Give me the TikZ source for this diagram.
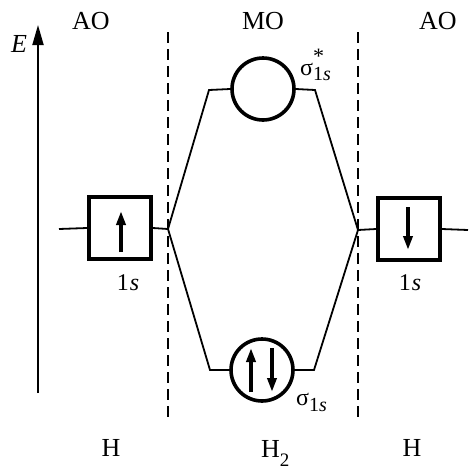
\documentclass[tikz,border=0pt]{standalone}
\usepackage{fontspec}
\setmainfont{Liberation Serif}
\usetikzlibrary{arrows.meta}
\begin{document}
\begin{tikzpicture}[x=1pt,y=-1pt,
  thin line/.style={line width=1.8pt},
  aobox/.style={draw,line width=3.6pt,minimum width=62pt,minimum height=62pt,inner sep=0pt},
  mocirc/.style={draw,circle,line width=3.6pt,minimum size=62pt,inner sep=0pt},
  spin/.style={line width=3.6pt,-{Triangle[length=14pt,width=9pt]}},
  divider/.style={line width=1.8pt,dash pattern=on 11pt off 6pt},
  lbl/.style={font=\fontsize{26}{30}\selectfont,inner sep=0pt},
  sub/.style={font=\fontsize{24}{28}\selectfont,inner sep=0pt}]
\useasboundingbox (0,0) rectangle (472,469);
% energy axis
\coordinate (e0) at (38,393);
\coordinate (e1) at (38,25);
\draw[line width=1.8pt,-{Triangle[length=20pt,width=11pt]}] (e0) -- (e1);
\node[lbl] (E) at (19,44) {\textit{E}};
% headers
\node[lbl] (ao1) at (91,21) {AO};
\node[lbl] (mo) at (263,21) {MO};
\node[lbl] (ao2) at (438,21) {AO};
% footers
\node[lbl] (h1) at (111,448) {H};
\node[lbl,anchor=base west] (h2) at (261,457) {H\raisebox{-9pt}{\fontsize{19}{22}\selectfont 2}};
\node[lbl] (h3) at (412,448) {H};
% dividers
\coordinate (dl1) at (168,32); \coordinate (dl2) at (168,421);
\coordinate (dr1) at (358,32); \coordinate (dr2) at (358,421);
\draw[divider] (dl1) -- (dl2);
\draw[divider] (dr1) -- (dr2);
% atomic orbitals
\node[aobox] (b1) at (120,228) {};
\node[aobox] (b2) at (409,229) {};
\coordinate (l0) at (59,229);
\coordinate (r0) at (468,230);
\coordinate (jL) at (168,229);
\coordinate (jR) at (358,230);
\draw[thin line] (l0) -- (b1.west);
\draw[thin line] (b1.east) -- (jL);
\draw[thin line] (jR) -- (b2.west);
\draw[thin line] (b2.east) -- (r0);
\coordinate (u0) at (121,252); \coordinate (u1) at (121,211);
\draw[spin] (u0) -- (u1);
\coordinate (d0) at (408,207); \coordinate (d1) at (408,250);
\draw[spin] (d0) -- (d1);
\node[sub,anchor=base] (s1) at (128,290) {1\kern1pt\textit{s}};
\node[sub,anchor=base] (s2) at (410,290) {1\kern1pt\textit{s}};
% molecular orbitals
\node[mocirc] (top) at (263,89) {};
\node[mocirc] (bot) at (262,370) {};
\coordinate (tL) at (209,90); \coordinate (tR) at (315,90);
\coordinate (bL) at (210,370); \coordinate (bR) at (314,370);
\draw[thin line] (jL) -- (tL) -- (top.west);
\draw[thin line] (top.east) -- (tR) -- (jR);
\draw[thin line] (jL) -- (bL) -- (bot.west);
\draw[thin line] (bot.east) -- (bR) -- (jR);
\coordinate (a0) at (251,392); \coordinate (a1) at (251,348);
\draw[spin] (a0) -- (a1);
\coordinate (c0) at (272,348); \coordinate (c1) at (272,392);
\draw[spin] (c0) -- (c1);
\node[sub,anchor=base west] (sst) at (300,75) {σ\rlap{\raisebox{12pt}{\fontsize{22}{24}\selectfont *}}\raisebox{-5pt}{\fontsize{20}{22}\selectfont 1\textit{s}}};
\node[sub,anchor=base west] (ss) at (296,405) {σ\raisebox{-6pt}{\fontsize{20}{22}\selectfont 1\textit{s}}};
\end{tikzpicture}
\end{document}
